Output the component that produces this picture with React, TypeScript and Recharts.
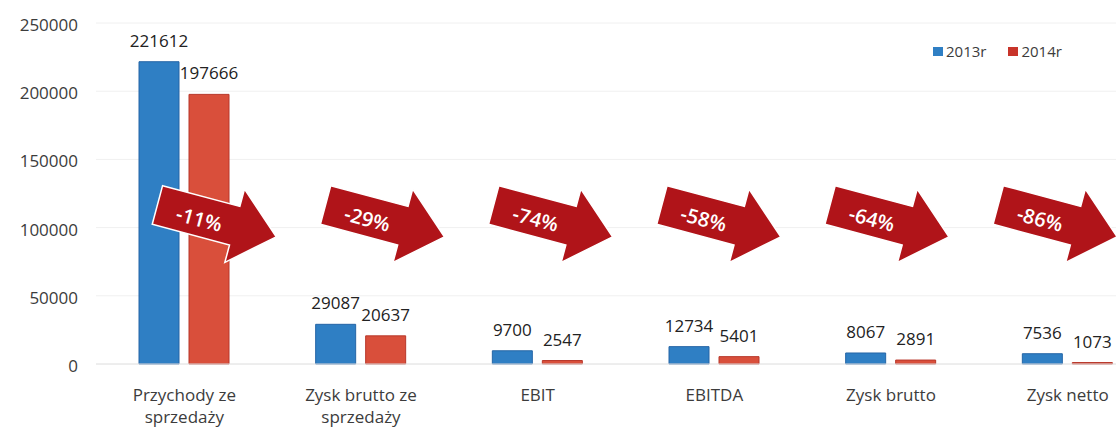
import React from 'react';
import { BarChart, Bar, XAxis, YAxis, CartesianGrid, LabelList, Legend, ReferenceDot } from 'recharts';

const categories = [
  'Przychody ze\nsprzedaży',
  'Zysk brutto ze\nsprzedaży',
  'EBIT',
  'EBITDA',
  'Zysk brutto',
  'Zysk netto',
];
const values2013 = [221612, 29087, 9700, 12734, 8067, 7536];
const values2014 = [197666, 20637, 2547, 5401, 2891, 1073];
const changeLabels = ['-11%', '-29%', '-74%', '-58%', '-64%', '-86%'];
const yTicks = [0, 50000, 100000, 150000, 200000, 250000];
const arrowLevel = 105000;

const data = categories.map((name, i) => ({ name, y2013: values2013[i], y2014: values2014[i] }));

const FONT = '"Open Sans", "Noto Sans", sans-serif';
const BLUE = '#2f7fc4';
const RED = '#d94f3b';
const TEXT = '#3c3c3c';

function CategoryTick({ x, y, payload }: any) {
  const lines = String(payload.value).split('\n');
  return (
    <text x={x} y={y} textAnchor="middle" fill={TEXT} fontSize={17} fontFamily={FONT}>
      {lines.map((line, i) => (
        <tspan key={i} x={x} dy={i === 0 ? 35 : 22}>
          {line}
        </tspan>
      ))}
    </text>
  );
}

function ValueTick({ x, y, payload }: any) {
  return (
    <text x={x} y={y} dy={8} textAnchor="end" fill={TEXT} fontSize={17} fontFamily={FONT}>
      {payload.value}
    </text>
  );
}

// block arrow pointing down-right; arrows were placed by hand in the original,
// so they drift a little left of their category as we go right
function ChangeArrow({ cx, cy, text, index }: any) {
  const pts = '-61,-20 19,-20 19,-38 62,0 19,38 19,20 -61,20';
  const nudge = 32 - 8.5 * index;
  return (
    <g transform={`translate(${cx + nudge},${cy}) rotate(15)`}>
      <polygon points={pts} fill="#b01419" stroke="#ffffff" strokeWidth={1.5} />
      <text x={-17} y={3} dy={7} textAnchor="middle" fill="#ffffff" fontSize={20} fontWeight={600} fontFamily={FONT}>
        {text}
      </text>
    </g>
  );
}

function LegendContent() {
  const items = [
    { label: '2013r', color: BLUE },
    { label: '2014r', color: '#c8342a' },
  ];
  return (
    <div style={{ display: 'flex', gap: 22, fontFamily: FONT, fontSize: 15, color: TEXT }}>
      {items.map((it) => (
        <div key={it.label} style={{ display: 'flex', alignItems: 'center', gap: 3 }}>
          <span style={{ width: 10, height: 9, background: it.color, display: 'inline-block' }} />
          <span>{it.label}</span>
        </div>
      ))}
    </div>
  );
}

export default function App() {
  return (
    <div style={{ width: 1116, height: 428, overflow: 'hidden', position: 'relative', background: '#fff' }}>
      <style>{'body{margin:0}'}</style>
      <BarChart
        width={1160}
        height={428}
        data={data}
        margin={{ top: 23, right: 4, left: 0, bottom: 0 }}
        barSize={40}
        barGap={10}
      >
        <CartesianGrid vertical={false} stroke="#f0f0f0" />
        <XAxis
          dataKey="name"
          interval={0}
          height={64}
          tickLine={false}
          tickSize={0}
          axisLine={{ stroke: '#e4e4e4' }}
          tick={<CategoryTick />}
        />
        <YAxis
          width={96}
          domain={[0, 250000]}
          ticks={yTicks}
          axisLine={false}
          tickLine={false}
          tickSize={0}
          tickMargin={18}
          tick={<ValueTick />}
        />
        <Legend
          layout="horizontal"
          verticalAlign="middle"
          align="center"
          content={<LegendContent />}
          wrapperStyle={{ top: 41, left: 933, width: 180, height: 20 }}
        />
        <Bar dataKey="y2013" name="2013r" fill={BLUE} stroke="#2565a6" strokeWidth={1} isAnimationActive={false}>
          <LabelList dataKey="y2013" position="top" offset={15} fill="#222" fontSize={17} fontFamily={FONT} />
        </Bar>
        <Bar dataKey="y2014" name="2014r" fill={RED} stroke="#b8372a" strokeWidth={1} isAnimationActive={false}>
          <LabelList dataKey="y2014" position="top" offset={15} fill="#222" fontSize={17} fontFamily={FONT} />
        </Bar>
        {categories.map((c, i) => (
          <ReferenceDot
            key={c}
            x={c}
            y={arrowLevel}
            ifOverflow="visible"
            shape={(p: any) => <ChangeArrow cx={p.cx} cy={p.cy} text={changeLabels[i]} index={i} />}
          />
        ))}
      </BarChart>
    </div>
  );
}
